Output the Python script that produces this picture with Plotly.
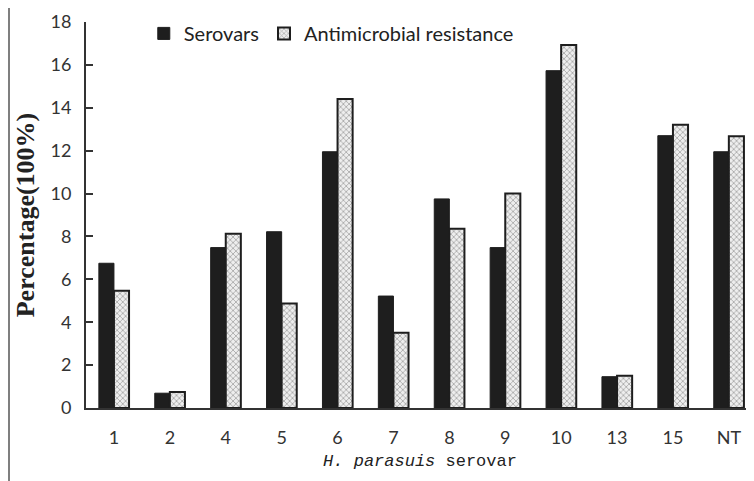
import plotly.graph_objects as go

categories = ["1", "2", "4", "5", "6", "7", "8", "9", "10", "13", "15", "NT"]
serovars = [6.75, 0.69, 7.48, 8.22, 11.95, 5.22, 9.75, 7.48, 15.73, 1.46, 12.7, 11.95]
resistance = [5.47, 0.75, 8.12, 4.87, 14.41, 3.51, 8.36, 10.0, 16.93, 1.5, 13.21, 12.67]
y_ticks = [0, 2, 4, 6, 8, 10, 12, 14, 16, 18]

# page body has an 8px default margin, so the figure is shifted by 8px
W, H = 746, 473
ML, MR, MT, MB = 78, 0, 14, 73
plot_w = W - ML - MR
plot_h = H - MT - MB

fig = go.Figure()
fig.add_trace(go.Bar(
    x=categories, y=serovars, name="Serovars",
    marker=dict(color="#1e1e1e", line=dict(color="#1e1e1e", width=1)),
))
fig.add_trace(go.Bar(
    x=categories, y=resistance, name="Antimicrobial resistance",
    marker=dict(
        color="white",
        line=dict(color="#1e1e1e", width=2),
        pattern=dict(shape="x", size=4, solidity=0.4, fgcolor="#6a6a6a", bgcolor="#eeeeee"),
    ),
))

fig.update_layout(
    width=W, height=H,
    margin=dict(l=ML, r=MR, t=MT, b=MB, autoexpand=False),
    paper_bgcolor="white", plot_bgcolor="white",
    barmode="group", bargap=0.46, bargroupgap=0,
    font=dict(family="Lato, Open Sans, sans-serif", color="#333333", size=16),
    showlegend=True,
    legend=dict(
        orientation="h", x=0.0865, y=1.021, xanchor="left", yanchor="top",
        font=dict(family="Lato, Open Sans, sans-serif", size=20, color="#222222"),
        bgcolor="rgba(0,0,0,0)", itemwidth=30, traceorder="normal",
    ),
    xaxis=dict(
        range=[-0.5, 11.45], showline=True, linecolor="#333333", linewidth=2,
        ticks="", showgrid=False, zeroline=False, automargin=False,
        ticklabelstandoff=12,
        tickfont=dict(size=18, color="#333333"),
        title=dict(text="<i>H. parasuis</i> serovar",
                   font=dict(family="Liberation Mono, monospace", size=17, color="#222222"),
                   standoff=8),
    ),
    yaxis=dict(
        range=[0, 18], tickvals=y_ticks, showline=True, linecolor="#333333", linewidth=2,
        ticks="inside", ticklen=7, tickwidth=2, tickcolor="#333333",
        showgrid=False, zeroline=False, automargin=False,
        ticklabelstandoff=9,
        tickfont=dict(size=18, color="#333333"),
        title=dict(text="<b>Percentage(100%)</b>",
                   font=dict(family="Liberation Serif, serif", size=26, color="#222222"),
                   standoff=8),
    ),
    shapes=[dict(type="line", xref="paper", yref="paper",
                 x0=-(ML - 1) / plot_w, x1=-(ML - 1) / plot_w,
                 y0=-MB / plot_h, y1=(H - MT) / plot_h,
                 line=dict(color="#555555", width=1.5))],
)

fig.write_html("out.html")
